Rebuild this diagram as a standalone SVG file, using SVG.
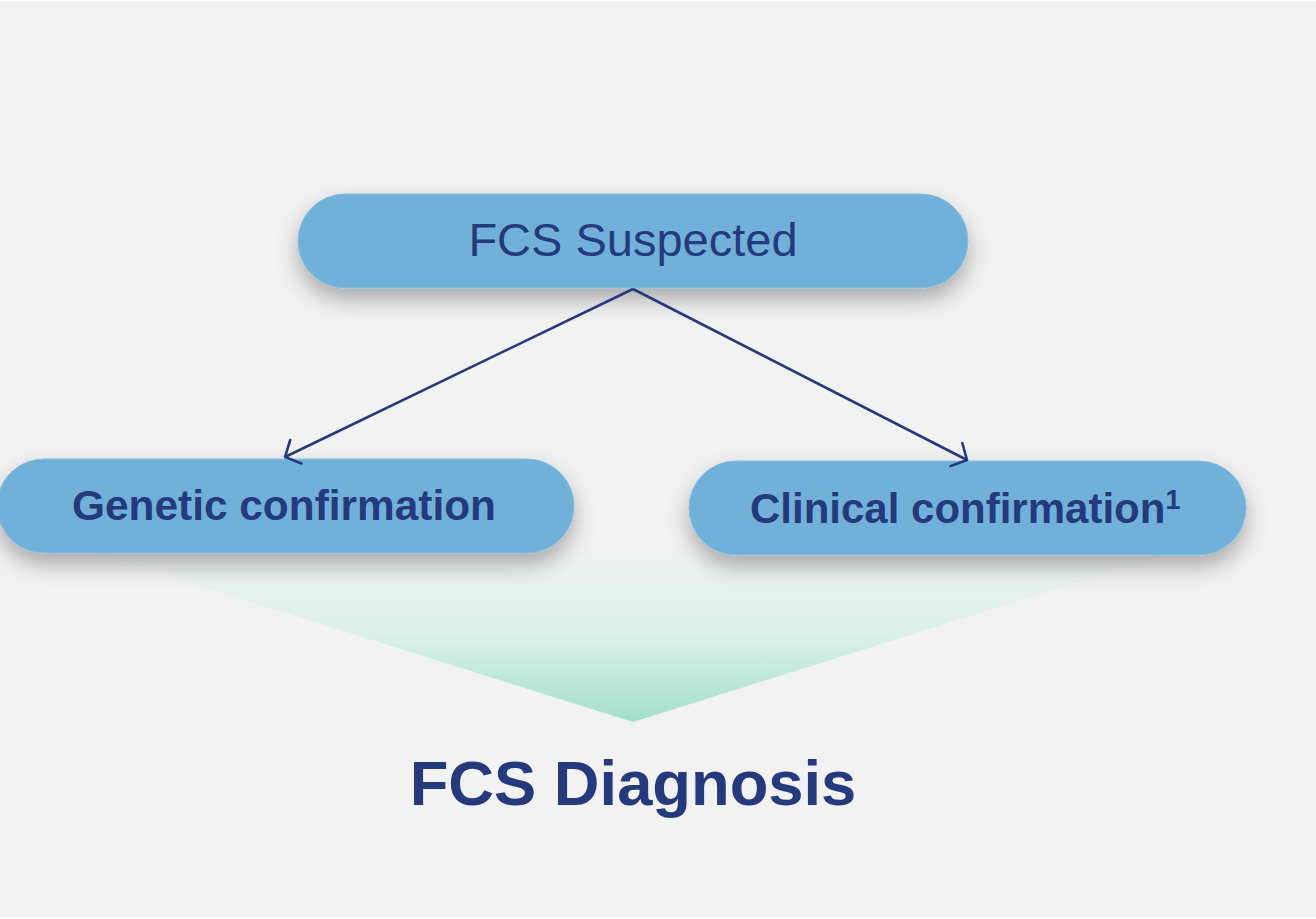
<svg xmlns="http://www.w3.org/2000/svg" width="1316" height="919" viewBox="0 0 1316 919">
  <style>
    .pill { fill: #71b1d9; stroke: #86bee0; stroke-width: 1; filter: url(#soft-shadow); }
    .label { fill: #253a7c; font-family: "Liberation Sans", Arial, sans-serif; }
    .bold { font-weight: bold; }
    .link { stroke: #253a7c; stroke-width: 2.6; fill: none; marker-end: url(#open-arrow); }
  </style>
  <defs>
    <filter id="soft-shadow" x="-15%" y="-40%" width="130%" height="200%">
      <feDropShadow dx="0" dy="11" stdDeviation="11" flood-color="#000000" flood-opacity="0.3"/>
    </filter>
    <linearGradient id="funnel" x1="0" y1="545" x2="0" y2="722" gradientUnits="userSpaceOnUse">
      <stop offset="0" stop-color="#f2f2f2"/>
      <stop offset="0.2" stop-color="#e9f2ef"/>
      <stop offset="0.5" stop-color="#dcf1eb"/>
      <stop offset="1" stop-color="#a2dfcc"/>
    </linearGradient>
    <marker id="open-arrow" markerUnits="userSpaceOnUse" markerWidth="30" markerHeight="30" refX="0" refY="0" orient="auto" overflow="visible">
      <path d="M-12,-13 L0,0 L-12,13" fill="none" stroke="#253a7c" stroke-width="2.6" stroke-linecap="round" stroke-linejoin="round"/>
    </marker>
  </defs>

  <!-- canvas -->
  <rect x="0" y="0" width="1316" height="919" fill="#ffffff"/>
  <rect x="0" y="1" width="1316" height="916" fill="#f2f2f2"/>

  <!-- converging funnel toward the diagnosis -->
  <polygon id="funnel-shape" points="60,542 1206,542 633,722" fill="url(#funnel)"/>

  <g id="node-suspected">
    <rect class="pill" x="298" y="194" width="670" height="94" rx="47" ry="47"/>
    <text class="label" x="633" y="256" font-size="47" text-anchor="middle">FCS Suspected</text>
  </g>

  <g id="node-genetic">
    <rect class="pill" x="-3" y="459" width="577" height="94" rx="47" ry="47"/>
    <text class="label bold" x="284" y="520" font-size="42.4" text-anchor="middle">Genetic confirmation</text>
  </g>

  <g id="node-clinical">
    <rect class="pill" x="689" y="461" width="557" height="94" rx="47" ry="47"/>
    <text class="label bold" x="750" y="523" font-size="42">Clinical confirmation<tspan font-size="27" dy="-14">1</tspan></text>
  </g>

  <g id="connectors">
    <line class="link" x1="633" y1="289" x2="285" y2="457"/>
    <line class="link" x1="633" y1="289" x2="967" y2="460"/>
  </g>

  <g id="node-diagnosis">
    <text class="label bold" x="633" y="805" font-size="63.3" text-anchor="middle">FCS Diagnosis</text>
  </g>
</svg>
